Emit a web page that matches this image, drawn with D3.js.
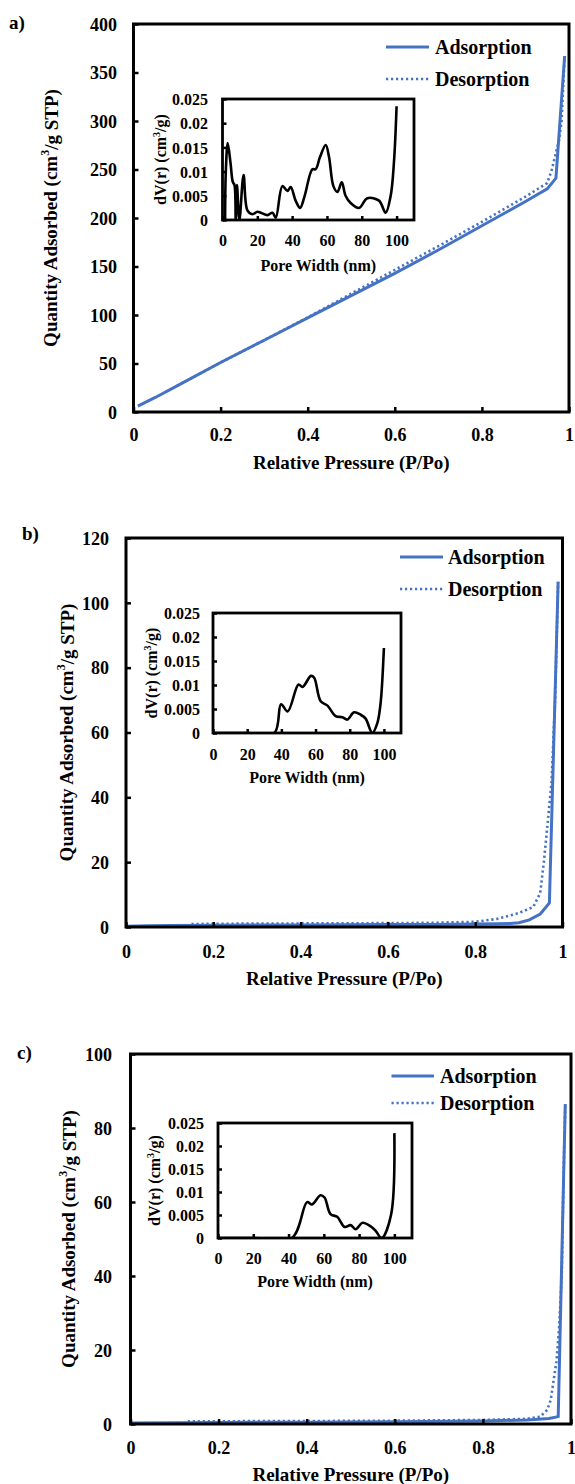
<!DOCTYPE html>
<html><head><meta charset="utf-8">
<script src="https://cdn.jsdelivr.net/npm/d3@7"></script>
<style>
body{margin:0;background:#fff;}
svg text{font-family:"Liberation Serif","Times New Roman",serif;font-weight:bold;fill:#000;}
</style></head>
<body><svg id="chart" width="575" height="1484"></svg>
<script>
// ---------- DATA ----------
const panelLabels = ["a)", "b)", "c)"];
const legendLabels = ["Adsorption", "Desorption"];
const xTicksMain = [0, 0.2, 0.4, 0.6, 0.8, 1];
const xTicksInset = [0, 20, 40, 60, 80, 100];
const yTicksInset = [0, 0.005, 0.01, 0.015, 0.02, 0.025];
const yTicksA = [0, 50, 100, 150, 200, 250, 300, 350, 400];
const yTicksB = [0, 20, 40, 60, 80, 100, 120];
const yTicksC = [0, 20, 40, 60, 80, 100];

// Panel a isotherm
const adsP_a = [0.01, 0.05, 0.1, 0.2, 0.3, 0.4, 0.5, 0.6, 0.7, 0.8, 0.9, 0.95, 0.97, 0.99];
const adsQ_a = [6, 15, 27, 51, 74, 97, 120, 143, 167, 192, 217, 230, 241, 367];
const desP_a = [0.1, 0.2, 0.3, 0.4, 0.5, 0.6, 0.7, 0.8, 0.9, 0.95, 0.96, 0.977, 0.983, 0.99];
const desQ_a = [27, 51, 74, 97.5, 122, 146.5, 171, 196, 222, 236, 249, 280, 300, 367];
// Panel a pore size distribution
const poreW_a = [1.5, 1.9, 3.0, 4.6, 5.9, 6.9, 7.6, 8.3, 9.7, 12.1, 14.3, 17.2, 20, 22, 25.8, 28.7, 30.6, 34.4, 37.3, 39.2, 42, 44.6, 47.2, 51.6, 53.5, 56, 59.3, 61.2, 63.7, 66, 68.5, 70.7, 73.6, 78.4, 83.2, 89.9, 93.7, 96.6, 98.5, 100];
const poreV_a = [0, 0.01, 0.0159, 0.0118, 0.0079, 0.0072, 0, 0.0072, 0, 0.0093, 0.002, 0.0012, 0.0017, 0.0015, 0.001, 0.0015, 0.0005, 0.007, 0.006, 0.0068, 0.004, 0.0025, 0.005, 0.0105, 0.0105, 0.013, 0.0155, 0.013, 0.007, 0.0058, 0.0078, 0.005, 0.0035, 0.0025, 0.0045, 0.004, 0.0015, 0.005, 0.012, 0.0235];

// Panel b isotherm
const adsP_b = [0.0, 0.05, 0.1, 0.2, 0.3, 0.4, 0.5, 0.6, 0.7, 0.8, 0.85, 0.88, 0.9, 0.924, 0.949, 0.97, 0.99];
const adsQ_b = [0.2, 0.35, 0.45, 0.55, 0.6, 0.65, 0.7, 0.75, 0.8, 0.9, 1.0, 1.1, 1.3, 2.2, 4.0, 7.4, 106.5];
const desP_b = [0.15, 0.2, 0.4, 0.6, 0.7, 0.8, 0.85, 0.9, 0.933, 0.949, 0.958, 0.966, 0.975, 0.983, 0.99];
const desQ_b = [0.9, 1.0, 1.1, 1.2, 1.3, 1.6, 2.5, 4.3, 6.2, 10.5, 21, 32, 45, 70, 106.5];
// Panel b pore size distribution
const poreW_b = [0, 20, 35.9, 39.8, 43.7, 50, 52.4, 57.3, 59.2, 63, 67, 71.8, 75.7, 78.6, 82.5, 86.4, 89.3, 93.2, 96.1, 98, 100];
const poreV_b = [0, 0, 0, 0.006, 0.0045, 0.0101, 0.0096, 0.0119, 0.0115, 0.0066, 0.0057, 0.0035, 0.0033, 0.0028, 0.0043, 0.0038, 0.003, 0, 0.002, 0.006, 0.0177];

// Panel c isotherm
const adsP_c = [0.0, 0.1, 0.2, 0.4, 0.6, 0.8, 0.9, 0.95, 0.971, 0.987];
const adsQ_c = [0.3, 0.35, 0.4, 0.5, 0.6, 0.8, 1.1, 1.5, 2.0, 86.5];
const desP_c = [0.13, 0.2, 0.4, 0.6, 0.8, 0.9, 0.93, 0.946, 0.954, 0.967, 0.973, 0.979, 0.983, 0.987];
const desQ_c = [0.7, 0.75, 0.8, 0.9, 1.1, 1.4, 2.0, 3.8, 6.5, 17, 26, 40, 67, 86.5];
// Panel c pore size distribution
const poreW_c = [0, 20, 41.9, 50.5, 53.3, 58.1, 60.4, 63.8, 67.6, 71.8, 75.2, 78.1, 81.9, 86.7, 89.5, 92.8, 98.1, 100];
const poreV_c = [0, 0, 0, 0.0078, 0.0073, 0.0093, 0.0088, 0.0052, 0.0046, 0.0024, 0.0028, 0.0019, 0.0033, 0.0025, 0.0015, 0, 0.005, 0.0228];

// ---------- LAYOUT ----------
const layouts = [
  {box:[133.5,569,24,412], yMax:400, yTicks:yTicksA, lab:[9,29], yTitleX:50, yLabR:117, xLabY:441, xTitleY:469,
   leg:[386,429,47,79,435], inset:[222.5,414,99,220], iYTitleX:160, iYLabR:208, iXLabY:246, iXTitleY:271},
  {box:[126,562.5,538,927], yMax:120, yTicks:yTicksB, lab:[22,540], yTitleX:66, yLabR:109, xLabY:958, xTitleY:985,
   leg:[400,443,557,589,448], inset:[213,401,613,733], iYTitleX:151, iYLabR:200, iXLabY:760, iXTitleY:783},
  {box:[130.5,571,1054,1424], yMax:100, yTicks:yTicksC, lab:[17,1059], yTitleX:68, yLabR:112, xLabY:1454, xTitleY:1481,
   leg:[391.5,434,1076,1103,440], inset:[218,412,1123,1238], iYTitleX:154, iYLabR:204, iXLabY:1264, iXTitleY:1287}
];
const isoData = [
  {ads:adsP_a.map((p,i)=>[p,adsQ_a[i]]), des:desP_a.map((p,i)=>[p,desQ_a[i]]), psd:poreW_a.map((w,i)=>[w,poreV_a[i]])},
  {ads:adsP_b.map((p,i)=>[p,adsQ_b[i]]), des:desP_b.map((p,i)=>[p,desQ_b[i]]), psd:poreW_b.map((w,i)=>[w,poreV_b[i]])},
  {ads:adsP_c.map((p,i)=>[p,adsQ_c[i]]), des:desP_c.map((p,i)=>[p,desQ_c[i]]), psd:poreW_c.map((w,i)=>[w,poreV_c[i]])}
];

const blue = "#4472C4";
const svg = d3.select("#chart");

function fmt(v){ return String(+v.toFixed(4)); }

layouts.forEach((L, k) => {
  const D = isoData[k];
  const g = svg.append("g");
  const [bx0,bx1,by0,by1] = L.box;
  const x = d3.scaleLinear().domain([0,1]).range([bx0,bx1]);
  const y = d3.scaleLinear().domain([0,L.yMax]).range([by1,by0]);

  // panel label
  g.append("text").attr("x",L.lab[0]).attr("y",L.lab[1]).attr("font-size",19).text(panelLabels[k]);

  // clip
  const cid = "clip"+k;
  svg.append("clipPath").attr("id",cid).append("rect").attr("x",bx0).attr("y",by0-2).attr("width",bx1-bx0).attr("height",by1-by0+2);

  // lines
  const line = d3.line().x(d=>x(d[0])).y(d=>y(d[1]));
  g.append("path").datum(D.des).attr("d",line).attr("fill","none").attr("stroke",blue)
    .attr("stroke-width",2.6).attr("stroke-dasharray","2.2,2.8").attr("clip-path","url(#"+cid+")");
  g.append("path").datum(D.ads).attr("d",line).attr("fill","none").attr("stroke",blue)
    .attr("stroke-width",3).attr("clip-path","url(#"+cid+")");

  // axes
  const xAx = d3.axisBottom(x).tickValues(xTicksMain).tickSize(-5).tickFormat(d=>fmt(d));
  const yAx = d3.axisLeft(y).tickValues(L.yTicks).tickSize(-5).tickFormat(d=>fmt(d));
  const gx = g.append("g").attr("transform","translate(0,"+by1+")").call(xAx);
  const gy = g.append("g").attr("transform","translate("+bx0+",0)").call(yAx);
  [gx,gy].forEach(a=>{ a.select(".domain").remove(); a.selectAll(".tick line").attr("stroke","#000").attr("stroke-width",2.5);
     a.selectAll(".tick text").attr("font-size",18).attr("font-family",null); });
  gx.selectAll(".tick text").attr("y",null).attr("dy",null).attr("transform","translate(0,"+(L.xLabY-by1)+")");
  gy.selectAll(".tick text").attr("x",L.yLabR-bx0).attr("dy","0.35em");
  g.append("rect").attr("x",bx0).attr("y",by0).attr("width",bx1-bx0).attr("height",by1-by0)
    .attr("fill","none").attr("stroke","#000").attr("stroke-width",3);

  // axis titles
  g.append("text").attr("x",(bx0+bx1)/2).attr("y",L.xTitleY).attr("text-anchor","middle").attr("font-size",19)
    .text("Relative Pressure (P/Po)");
  const yt = g.append("text").attr("transform","translate("+L.yTitleX+","+((by0+by1)/2)+") rotate(-90)")
    .attr("text-anchor","middle").attr("dy","0.35em").attr("font-size",19);
  yt.append("tspan").text("Quantity Adsorbed (cm");
  yt.append("tspan").attr("font-size",12).attr("dy","-0.6em").text("3");
  yt.append("tspan").attr("dy","0.45em").text("/g STP)");

  // legend
  const [lx0,lx1,ly1,ly2,ltx] = L.leg;
  g.append("line").attr("x1",lx0).attr("x2",lx1).attr("y1",ly1).attr("y2",ly1).attr("stroke",blue).attr("stroke-width",3);
  g.append("line").attr("x1",lx0).attr("x2",lx1).attr("y1",ly2).attr("y2",ly2).attr("stroke",blue).attr("stroke-width",2.6).attr("stroke-dasharray","2.2,2.8");
  g.append("text").attr("x",ltx).attr("y",ly1).attr("dy","0.33em").attr("font-size",20).text(legendLabels[0]);
  g.append("text").attr("x",ltx).attr("y",ly2).attr("dy","0.33em").attr("font-size",20).text(legendLabels[1]);

  // inset
  const [ix0,ix1,iy0,iy1] = L.inset;
  const xi = d3.scaleLinear().domain([0,110]).range([ix0,ix1]);
  const yi = d3.scaleLinear().domain([0,0.025]).range([iy1,iy0]);
  const icid = "iclip"+k;
  svg.append("clipPath").attr("id",icid).append("rect").attr("x",ix0).attr("y",iy0).attr("width",ix1-ix0).attr("height",iy1-iy0);
  const iline = d3.line().x(d=>xi(d[0])).y(d=>yi(d[1])).curve(d3.curveCatmullRom.alpha(0.5));
  g.append("path").datum(D.psd).attr("d",iline).attr("fill","none").attr("stroke","#000").attr("stroke-width",2.6)
    .attr("stroke-linejoin","round").attr("clip-path","url(#"+icid+")");
  const ixAx = d3.axisBottom(xi).tickValues(xTicksInset).tickSize(-4).tickFormat(d=>fmt(d));
  const iyAx = d3.axisLeft(yi).tickValues(yTicksInset).tickSize(-4).tickFormat(d=>fmt(d));
  const igx = g.append("g").attr("transform","translate(0,"+iy1+")").call(ixAx);
  const igy = g.append("g").attr("transform","translate("+ix0+",0)").call(iyAx);
  [igx,igy].forEach(a=>{ a.select(".domain").remove(); a.selectAll(".tick line").attr("stroke","#000").attr("stroke-width",2.5);
     a.selectAll(".tick text").attr("font-size",16).attr("font-family",null); });
  igx.selectAll(".tick text").attr("y",null).attr("dy",null).attr("transform","translate(0,"+(L.iXLabY-iy1)+")");
  igy.selectAll(".tick text").attr("x",L.iYLabR-ix0).attr("dy","0.35em");
  g.append("rect").attr("x",ix0).attr("y",iy0).attr("width",ix1-ix0).attr("height",iy1-iy0)
    .attr("fill","none").attr("stroke","#000").attr("stroke-width",2.8);
  g.append("text").attr("x",(ix0+ix1)/2).attr("y",L.iXTitleY).attr("text-anchor","middle").attr("font-size",16)
    .text("Pore Width (nm)");
  const iyt = g.append("text").attr("transform","translate("+L.iYTitleX+","+((iy0+iy1)/2)+") rotate(-90)")
    .attr("text-anchor","middle").attr("dy","0.35em").attr("font-size",16);
  iyt.append("tspan").text("dV(r) (cm");
  iyt.append("tspan").attr("font-size",10).attr("dy","-0.6em").text("3");
  iyt.append("tspan").attr("dy","0.4em").text("/g)");
});
</script></body></html>
